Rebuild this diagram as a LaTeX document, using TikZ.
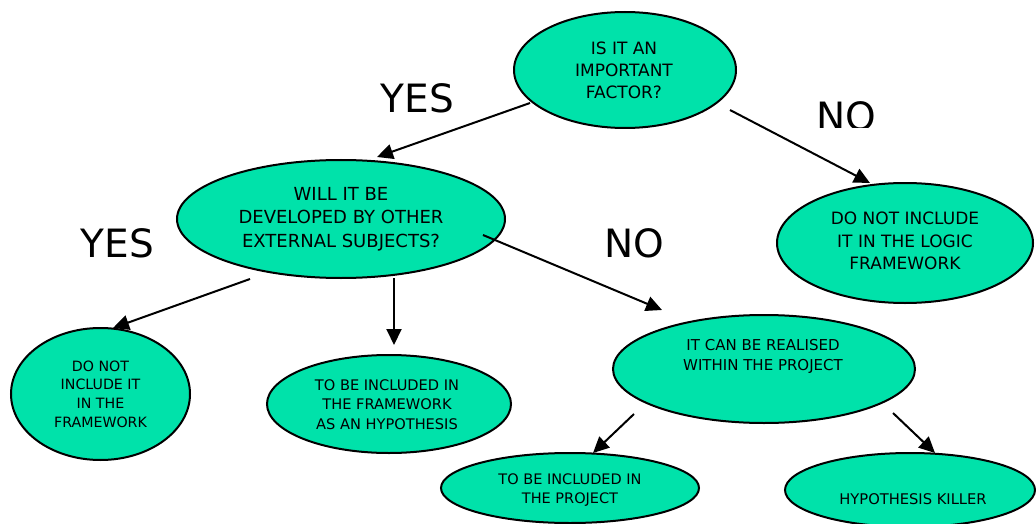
\documentclass[tikz,border=0pt]{standalone}
\usepackage{fontspec}
\setmainfont{DejaVu Sans}
\usetikzlibrary{shapes.geometric,arrows.meta}
\definecolor{bub}{RGB}{0,226,170}
\begin{document}
\begin{tikzpicture}[x=1pt,y=-1pt,
  bubble/.style={ellipse, draw=black, line width=2pt, fill=bub, inner sep=0pt, outer sep=0pt},
  txt/.style={align=center, inner sep=0pt, text=black},
  big/.style={font=\fontsize{39}{44}\selectfont, inner sep=0pt},
  arr/.style={line width=2pt, -{Triangle[length=16pt,width=15pt]}}]
\fill[white] (0,0) rectangle (1036,524);
\useasboundingbox (0,0) rectangle (1036,524);
% bubbles
\node[bubble, minimum width=222pt, minimum height=116pt] (e1) at (625,70) {};
\node[bubble, minimum width=328pt, minimum height=118pt] (e2) at (341,219) {};
\node[bubble, minimum width=256pt, minimum height=120pt] (e3) at (905,243) {};
\node[bubble, minimum width=179pt, minimum height=132pt] (e4) at (100.5,394) {};
\node[bubble, minimum width=244pt, minimum height=98pt] (e5) at (389,404) {};
\node[bubble, minimum width=302pt, minimum height=108pt] (e6) at (764,369) {};
\node[bubble, minimum width=258pt, minimum height=70pt] (e7) at (570,488) {};
\node[bubble, minimum width=250pt, minimum height=74pt] (e8) at (910,490) {};
% texts
\node[txt, font=\fontsize{17}{22}\selectfont] (t1) at ([shift={(-1,0)}]e1.center) {IS IT AN\\IMPORTANT\\FACTOR?};
\node[txt, font=\fontsize{18}{23.5}\selectfont] (t2) at (e2.center) {WILL IT BE\\DEVELOPED BY OTHER\\EXTERNAL SUBJECTS?};
\node[txt, font=\fontsize{17}{22.3}\selectfont] (t3) at ([shift={(0,-2)}]e3.center) {DO NOT INCLUDE\\IT IN THE LOGIC\\FRAMEWORK};
\node[txt, font=\fontsize{14.2}{18.7}\selectfont] (t4) at (e4.center) {DO NOT\\INCLUDE IT\\IN THE\\FRAMEWORK};
\node[txt, font=\fontsize{14.6}{19.2}\selectfont] (t5) at ([shift={(-2,0.5)}]e5.center) {TO BE INCLUDED IN\\THE FRAMEWORK\\AS AN HYPOTHESIS};
\node[txt, font=\fontsize{15}{19.3}\selectfont] (t6) at ([shift={(-1,-12.6)}]e6.center) {IT CAN BE REALISED\\WITHIN THE PROJECT};
\node[txt, font=\fontsize{14.5}{18.4}\selectfont] (t7) at ([shift={(0,2)}]e7.center) {TO BE INCLUDED IN\\THE PROJECT};
\node[txt, font=\fontsize{14.7}{18.4}\selectfont] (t8) at ([shift={(3,9)}]e8.center) {HYPOTHESIS KILLER};
% branch labels
\node[big] (yes1) at (417.5,98.5) {YES};
\node[big] (yes2) at (117.5,243) {YES};
\node[big] (no1) at (634,243) {NO};
\begin{scope}
\clip (780,60) rectangle (900,128);
\node[big] (no2) at (846,116) {NO};
\end{scope}
% connectors
\draw[arr] ([shift={(-95,33)}]e1.center) -- ([shift={(36,-62)}]e2.center);
\draw[arr] ([shift={(105,40)}]e1.center) -- ([shift={(-35,-60)}]e3.center);
\draw[arr] ([shift={(-91,60)}]e2.center) -- ([shift={(12.5,-66)}]e4.center);
\draw[arr] ([shift={(53,59)}]e2.center) -- ([shift={(5,-59)}]e5.center);
\draw[arr] ([shift={(142,16)}]e2.center) -- ([shift={(-102,-59)}]e6.center);
\draw[arr] ([shift={(-130,45)}]e6.center) -- ([shift={(23,-35)}]e7.center);
\draw[arr] ([shift={(129,44)}]e6.center) -- ([shift={(25,-37)}]e8.center);
\end{tikzpicture}
\end{document}
